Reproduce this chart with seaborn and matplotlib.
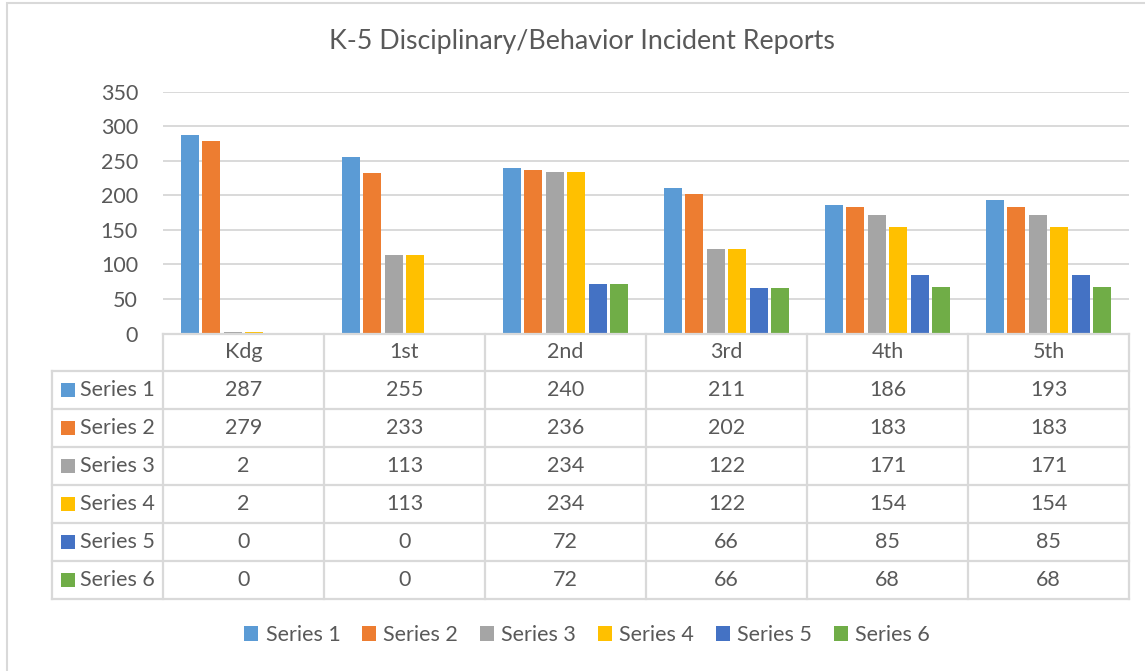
import numpy as np
import pandas as pd
import matplotlib
matplotlib.use("Agg")
import matplotlib.pyplot as plt
import seaborn as sns
from matplotlib.patches import Rectangle, Patch
from matplotlib.lines import Line2D

# ---- data ----
grades = ["Kdg", "1st", "2nd", "3rd", "4th", "5th"]
series_names = ["Series 1", "Series 2", "Series 3", "Series 4", "Series 5", "Series 6"]
series_1 = [287, 255, 240, 211, 186, 193]
series_2 = [279, 233, 236, 202, 183, 183]
series_3 = [2, 113, 234, 122, 171, 171]
series_4 = [2, 113, 234, 122, 154, 154]
series_5 = [0, 0, 72, 66, 85, 85]
series_6 = [0, 0, 72, 66, 68, 68]
y_ticks = [0, 50, 100, 150, 200, 250, 300, 350]
title = "K-5 Disciplinary/Behavior Incident Reports"
colors = ["#5B9BD5", "#ED7D31", "#A5A5A5", "#FFC000", "#4472C4", "#70AD47"]

all_series = [series_1, series_2, series_3, series_4, series_5, series_6]
rows = []
for name, vals in zip(series_names, all_series):
    for g, v in zip(grades, vals):
        rows.append({"grade": g, "series": name, "value": v})
df = pd.DataFrame(rows)

sns.set_theme(style="white")
plt.rcParams["font.family"] = ["Lato", "DejaVu Sans"]
TXT = "#595959"
GRID = "#d9d9d9"
FS = 15.5

W, H = 1145, 671
def fx(x):
    return x / W
def fy(y):
    return 1 - y / H

fig = plt.figure(figsize=(W / 100, H / 100), dpi=100)
fig.patch.set_facecolor("white")

# plot area
x_left, x_right = 163, 1129
y_top, y_zero = 91.7, 333.5
ax = fig.add_axes([fx(x_left), fy(y_zero), fx(x_right) - fx(x_left), (y_zero - y_top) / H])

sns.barplot(data=df, x="grade", y="value", hue="series", hue_order=series_names,
            order=grades, palette=colors, saturation=1, width=0.8, gap=0.17,
            edgecolor="none", linewidth=0, ax=ax, legend=False, errorbar=None)

ax.set_ylim(0, 350)
ax.set_xlim(-0.5, len(grades) - 0.5)
ax.set_yticks(y_ticks)
ax.set_yticklabels([str(t) for t in y_ticks], fontsize=FS, color=TXT)
ax.tick_params(axis="y", length=0, pad=18)
ax.tick_params(axis="x", length=0, labelbottom=False)
ax.set_xlabel("")
ax.set_ylabel("")
ax.yaxis.grid(True, color=GRID, linewidth=1.4)
ax.set_axisbelow(True)
for s in ax.spines.values():
    s.set_visible(False)

# title
fig.text(fx(582), fy(42), title, ha="center", va="center", fontsize=19.3, color=TXT)

# ---- data table ----
col_edges = [163, 324, 485, 646, 807, 968, 1129]
row_edges = [333.5, 370.5, 408.5, 446.5, 484.5, 522.5, 561, 599]
lab_left = 52
lw_tab = 1.6

def hline(x0, x1, y):
    fig.add_artist(Line2D([fx(x0), fx(x1)], [fy(y), fy(y)], color=GRID, lw=lw_tab,
                          solid_capstyle="projecting"))

def vline(x, y0, y1):
    fig.add_artist(Line2D([fx(x), fx(x)], [fy(y0), fy(y1)], color=GRID, lw=lw_tab,
                          solid_capstyle="projecting"))

hline(col_edges[0], col_edges[-1], row_edges[0])
for y in row_edges[1:]:
    hline(lab_left, col_edges[-1], y)
for x in col_edges:
    vline(x, row_edges[0], row_edges[-1])
vline(lab_left, row_edges[1], row_edges[-1])

for i, g in enumerate(grades):
    cx = (col_edges[i] + col_edges[i + 1]) / 2
    cy = (row_edges[0] + row_edges[1]) / 2
    fig.text(fx(cx), fy(cy), g, ha="center", va="center", fontsize=FS, color=TXT)

for r, (name, vals) in enumerate(zip(series_names, all_series)):
    cy = (row_edges[r + 1] + row_edges[r + 2]) / 2
    sq = 14
    fig.add_artist(Rectangle((fx(61), fy(cy + sq / 2)), sq / W, sq / H,
                             facecolor=colors[r], edgecolor="none", transform=fig.transFigure))
    fig.text(fx(80), fy(cy), name, ha="left", va="center", fontsize=FS, color=TXT)
    for i, v in enumerate(vals):
        cx = (col_edges[i] + col_edges[i + 1]) / 2
        fig.text(fx(cx), fy(cy), str(v), ha="center", va="center", fontsize=FS, color=TXT)

# ---- legend ----
handles = [Patch(facecolor=c, edgecolor="none", label=n) for c, n in zip(colors, series_names)]
leg = fig.legend(handles=handles, loc="center", bbox_to_anchor=(fx(587), fy(635)), ncol=6,
                 frameon=False, fontsize=FS, handlelength=0.65, handleheight=0.65,
                 handletextpad=0.35, columnspacing=1.0, borderpad=0)
for t in leg.get_texts():
    t.set_color(TXT)

# outer chart border (only top/left visible in reference)
fig.add_artist(Rectangle((fx(7), fy(H + 20)), (W + 20) / W, (H + 20 - 3) / H,
                         facecolor="none", edgecolor=GRID, lw=1.5, transform=fig.transFigure))

fig.savefig("out.png", dpi=100, facecolor="white")
